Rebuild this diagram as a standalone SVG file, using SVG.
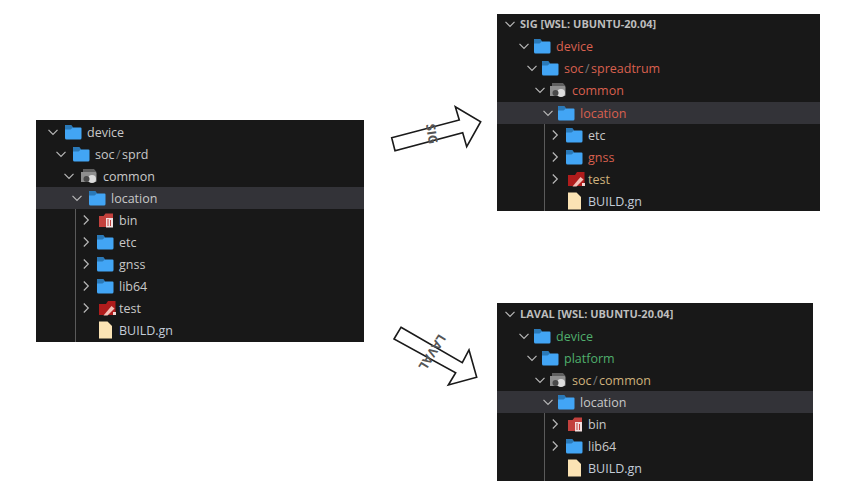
<svg xmlns="http://www.w3.org/2000/svg" width="849" height="502" viewBox="0 0 849 502">
<style>
text{font-family:"Open Sans","Noto Sans","Liberation Sans",sans-serif}
.t{font-size:12.5px;fill:#c8c8c8}
.h{font-size:11px;font-weight:700;fill:#bdbdbd}
.r{fill:#d9604f}.g{fill:#4fae6c}.y{fill:#cfb27c}.s{fill:#7a7a7a}.b{fill:#c3ccd8}
.bg{fill:#181818}.hl{fill:#333338}
.gd{stroke:#5a5a5a;stroke-width:1;fill:none}
.ar{fill:#fff;stroke:#1a1a1a;stroke-width:1.6;stroke-linejoin:miter}
.al{font-size:12.500px;font-weight:700;fill:#555}
</style>
<defs>
<path id="cd" d="M-4.500-2.200 0 2.300 4.500-2.200" fill="none" stroke="#b8b8b8" stroke-width="1.200"/>
<path id="cr" d="M-2.200-4.500 2.300 0-2.200 4.500" fill="none" stroke="#b8b8b8" stroke-width="1.200"/>
<g id="fo"><path d="M0-6q0-1 1-1h5l2 2.500h7.500q1 0 1 1V6q0 1.500-1.500 1.500H1.500Q0 7.500 0 6z" fill="#42a5f5"/><path d="M0-6q0-1 1-1h5l2 2.500-2.500 2H0z" fill="#2a79b8"/></g>
<g id="co"><path d="M0-4h14.500q1 0 1 1v8q0 1-1 1H0z" fill="#8f8f8f"/><path d="M2-7h11l2.500 3H2z" fill="#5f5f5f"/><circle cx="11" cy="3" r="4" fill="#dcdcdc"/><circle cx="5.500" cy="3" r="3" fill="#4a4a4a"/></g>
<g id="bi"><path d="M0-4h4.500l2-2.500H14V0H13V7H0z" fill="#c2413d"/><path d="M7-2h7V7.500H7z" fill="#f2e0e0"/><path d="M9-1v7M11.500 0v6" stroke="#c2413d" stroke-width="1"/></g>
<g id="te"><path d="M0-4h7l2-3h7.500V7H0z" fill="#b01c1c"/><path d="M4.500 7.500 12.500-2 15.500.5l-7 7z" fill="#f3c0b8"/><path d="M14 4h3v3h-3z" fill="#f3d8d4"/></g>
<path id="fi" d="M0-8.500h8.500L13-4V8.500H0z" fill="#fbe3b4"/>
</defs>

<g id="left-panel">
<rect class="bg" x="36" y="120" width="328" height="222"/>
<rect class="hl" x="36" y="187" width="328" height="22"/>
<path class="gd" d="M75.500 209V342"/>
</g>
<g id="left-device"><use href="#cd" x="53" y="132"/><use href="#fo" x="65" y="132"/><text class="t" x="87" y="136.500">device</text></g>
<g id="left-soc"><use href="#cd" x="61" y="154"/><use href="#fo" x="73" y="154"/><text class="t" x="95" y="158.500">soc<tspan class="s" dx="1.500">/</tspan><tspan dx="1.500">sprd</tspan></text></g>
<g id="left-common"><use href="#cd" x="69" y="176"/><use href="#co" x="81" y="176"/><text class="t" x="103" y="180.500">common</text></g>
<g id="left-location"><use href="#cd" x="77" y="198"/><use href="#fo" x="89" y="198"/><text class="t" x="111" y="202.500">location</text></g>
<g id="left-bin"><use href="#cr" x="86" y="220"/><use href="#bi" x="99" y="220"/><text class="t" x="119" y="224.500">bin</text></g>
<g id="left-etc"><use href="#cr" x="86" y="242"/><use href="#fo" x="97" y="242"/><text class="t" x="119" y="246.500">etc</text></g>
<g id="left-gnss"><use href="#cr" x="86" y="264"/><use href="#fo" x="97" y="264"/><text class="t" x="119" y="268.500">gnss</text></g>
<g id="left-lib64"><use href="#cr" x="86" y="286"/><use href="#fo" x="97" y="286"/><text class="t" x="119" y="290.500">lib64</text></g>
<g id="left-test"><use href="#cr" x="86" y="308"/><use href="#te" x="99" y="308"/><text class="t" x="119" y="312.500">test</text></g>
<g id="left-build"><use href="#fi" x="99" y="330"/><text class="t b" x="119" y="334.500">BUILD.gn</text></g>

<g id="top-panel">
<rect class="bg" x="497" y="14" width="323" height="197"/>
<rect class="hl" x="497" y="102" width="323" height="22"/>
<path class="gd" d="M544.500 124V211"/>
</g>
<g id="top-header"><use href="#cd" x="510" y="24"/><text class="h" x="520" y="27.800">SIG [WSL: UBUNTU-20.04]</text></g>
<g id="top-device"><use href="#cd" x="524" y="46"/><use href="#fo" x="534" y="46"/><text class="t r" x="556" y="50.500">device</text></g>
<g id="top-soc"><use href="#cd" x="532" y="68"/><use href="#fo" x="542" y="68"/><text class="t r" x="564" y="72.500">soc<tspan class="s" dx="1.500">/</tspan><tspan dx="1.500">spreadtrum</tspan></text></g>
<g id="top-common"><use href="#cd" x="540" y="90"/><use href="#co" x="550" y="90"/><text class="t r" x="572" y="94.500">common</text></g>
<g id="top-location"><use href="#cd" x="548" y="113"/><use href="#fo" x="558" y="113"/><text class="t r" x="580" y="117.500">location</text></g>
<g id="top-etc"><use href="#cr" x="555" y="135"/><use href="#fo" x="566" y="135"/><text class="t" x="588" y="139.500">etc</text></g>
<g id="top-gnss"><use href="#cr" x="555" y="157"/><use href="#fo" x="566" y="157"/><text class="t r" x="588" y="161.500">gnss</text></g>
<g id="top-test"><use href="#cr" x="555" y="179"/><use href="#te" x="568" y="179"/><text class="t y" x="588" y="183.500">test</text></g>
<g id="top-build"><use href="#fi" x="568" y="201"/><text class="t b" x="588" y="205.500">BUILD.gn</text></g>

<g id="bottom-panel">
<rect class="bg" x="497" y="303" width="316" height="178"/>
<rect class="hl" x="497" y="391" width="316" height="22"/>
<path class="gd" d="M544.500 413V481"/>
</g>
<g id="bottom-header"><use href="#cd" x="510" y="314"/><text class="h" x="520" y="317.800">LAVAL [WSL: UBUNTU-20.04]</text></g>
<g id="bottom-device"><use href="#cd" x="524" y="336"/><use href="#fo" x="534" y="336"/><text class="t g" x="556" y="340.500">device</text></g>
<g id="bottom-platform"><use href="#cd" x="532" y="358"/><use href="#fo" x="542" y="358"/><text class="t g" x="564" y="362.500">platform</text></g>
<g id="bottom-soc"><use href="#cd" x="540" y="380"/><use href="#co" x="550" y="380"/><text class="t y" x="572" y="384.500">soc<tspan class="s" dx="1.500">/</tspan><tspan dx="1.500">common</tspan></text></g>
<g id="bottom-location"><use href="#cd" x="548" y="402"/><use href="#fo" x="558" y="402"/><text class="t" x="580" y="406.500">location</text></g>
<g id="bottom-bin"><use href="#cr" x="555" y="424"/><use href="#bi" x="568" y="424"/><text class="t" x="588" y="428.500">bin</text></g>
<g id="bottom-lib64"><use href="#cr" x="555" y="446"/><use href="#fo" x="566" y="446"/><text class="t" x="588" y="450.500">lib64</text></g>
<g id="bottom-build"><use href="#fi" x="568" y="468"/><text class="t b" x="588" y="472.500">BUILD.gn</text></g>

<g id="connectors">
<g id="arrow-sig"><path class="ar" d="M391.700 137.700 459.300 120 455.300 106.700 480.700 121.700 466.700 146.700 462.700 132.700 395 150.700z"/>
<text class="al" text-anchor="middle" transform="translate(427.500 134.500) rotate(82)">SIG</text></g>
<g id="arrow-laval"><path class="ar" d="M401 327.300 462.300 362.700 469 350 476.700 377.300 448.300 385 455.700 372.700 394 339z"/>
<text class="al" text-anchor="middle" transform="translate(428.500 350) rotate(122)">LAVAL</text></g>
</g>
</svg>
